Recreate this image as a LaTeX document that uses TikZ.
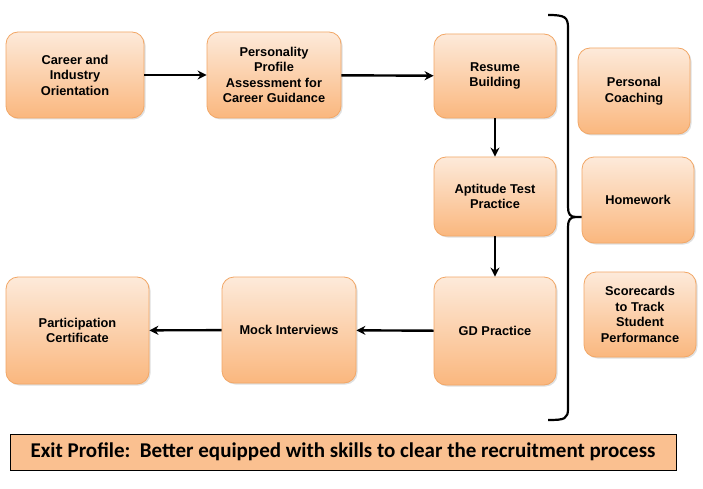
\documentclass[tikz,border=0pt]{standalone}
\usepackage{fontspec}
\setmainfont{Liberation Sans}
\newfontfamily\calib{Carlito}
\usetikzlibrary{arrows.meta,shadows}
\definecolor{boxtop}{HTML}{FDEADA}
\definecolor{boxbot}{HTML}{FAB77E}
\definecolor{boxedge}{HTML}{F2A766}
\definecolor{exitfill}{HTML}{FAC090}
\tikzset{
  stage/.style={draw=boxedge, line width=0.8pt, rounded corners=12pt,
    top color=boxtop, bottom color=boxbot, align=center,
    font=\fontsize{12.8}{15.5}\selectfont\bfseries,
    drop shadow={shadow xshift=1.5pt, shadow yshift=-1.5pt, opacity=0.25, fill=gray},
    inner sep=2pt},
  flow/.style={-{Stealth[length=9pt,width=9pt]}, line width=2.4pt, black},
}
\begin{document}
\begin{tikzpicture}[x=1pt,y=-1pt]
\useasboundingbox (0,0) rectangle (703,489);
\fill[white] (0,0) rectangle (703,489);
% stages
\node[stage, minimum width=138pt, minimum height=86pt] (c1) at (75,75) {Career and\\Industry\\Orientation};
\node[stage, minimum width=134pt, minimum height=86pt] (c2) at (274,75) {Personality\\Profile\\Assessment for\\Career Guidance};
\node[stage, minimum width=122pt, minimum height=84pt] (c3) at (495,76) {Resume\\Building};
\node[stage, minimum width=122pt, minimum height=79pt] (c4) at (495,196.5) {Aptitude Test\\Practice};
\node[stage, minimum width=122pt, minimum height=108pt] (c5) at (495,331) {GD Practice};
\node[stage, minimum width=134pt, minimum height=106pt] (c6) at (289,330) {Mock Interviews};
\node[stage, minimum width=143pt, minimum height=107pt] (c7) at (77.5,330.5) {Participation\\Certificate};
\node[stage, minimum width=112pt, minimum height=86pt] (s1) at (634,91) {Personal\\Coaching};
\node[stage, minimum width=112pt, minimum height=86pt] (s2) at (638,200) {Homework};
\node[stage, minimum width=112pt, minimum height=85pt] (s3) at (640,314.5) {Scorecards\\to Track\\Student\\Performance};
% flow arrows
\draw[flow] (c1) -- (c2);
\draw[flow] (c2) -- (c3);
\draw[flow] (c3) -- (c4);
\draw[flow] (c4) -- (c5);
\draw[flow] (c5) -- (c6);
\draw[flow] (c6) -- (c7);
% bracket
\coordinate (btop) at (548,15);
\coordinate (bbot) at (548,420);
\coordinate (btip) at ([yshift=-17pt]s2.west);
\draw[line width=2.2pt, black, line join=round]
  (btop) .. controls (565,15) and (568,17) .. (568,28)
  -- (568,207) .. controls (568,214) and (570,217) .. (576,217) -- (btip)
  (576,217) .. controls (570,217) and (568,220) .. (568,227)
  -- (568,408) .. controls (568,419) and (565,420) .. (bbot);
% exit profile
\node[draw=black, line width=0.8pt, fill=exitfill, minimum width=666pt, minimum height=36pt,
  font=\calib\fontsize{21}{24}\selectfont\bfseries] (exit) at (343,452)
  {Exit Profile:\ \ Better equipped with skills to clear the recruitment process};
\end{tikzpicture}
\end{document}
